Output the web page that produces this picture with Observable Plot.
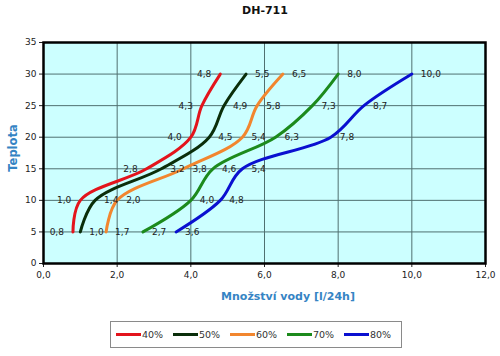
<!DOCTYPE html>
<html>
<head>
<meta charset="utf-8">
<script src="https://cdn.jsdelivr.net/npm/d3@7"></script>
<script src="https://cdn.jsdelivr.net/npm/@observablehq/plot@0.6"></script>
<style>
  body { margin: 0; background: #ffffff; }
  #wrap { position: relative; width: 500px; height: 356px; font-family: "DejaVu Sans", Verdana, sans-serif; overflow: hidden; }
  #title { position: absolute; left: 0; width: 530px; top: 4px; text-align: center; font-weight: bold; font-size: 11px; color: #111; }
  #ytitle { position: absolute; left: 13px; top: 148px; transform: translate(-50%, -50%) rotate(-90deg); font-weight: bold; font-size: 11.5px; color: #3584c4; white-space: nowrap; }
  #xtitle { position: absolute; left: 288px; top: 296px; transform: translate(-50%, -50%); font-weight: bold; font-size: 11px; color: #3584c4; white-space: nowrap; }
  #legend { position: absolute; left: 110px; top: 321px; width: 292px; height: 27px; border: 1px solid #8a8a8a; box-sizing: border-box; display: flex; align-items: center; padding-left: 5px; font-size: 9.5px; color: #333; }
  .item { display: flex; align-items: center; width: 58px; }
  .sw { width: 25px; height: 3px; margin-right: 1px; }
</style>
</head>
<body>
<div id="wrap">
  <div id="chart"></div>
  <div id="title">DH-711</div>
  <div id="ytitle">Teplota</div>
  <div id="xtitle">Množství vody [l/24h]</div>
  <div id="legend"></div>
</div>
<script>
// Data
const temps = [5, 10, 15, 20, 25, 30];
const series = ["40%", "50%", "60%", "70%", "80%"];
const colors = ["#e3141c", "#0a2e0a", "#f2862e", "#1c8a1c", "#0a10d0"];
const v40 = [0.8, 1.0, 2.8, 4.0, 4.3, 4.8];
const v50 = [1.0, 1.4, 3.2, 4.5, 4.9, 5.5];
const v60 = [1.7, 2.0, 3.8, 5.4, 5.8, 6.5];
const v70 = [2.7, 4.0, 4.6, 6.3, 7.3, 8.0];
const v80 = [3.6, 4.8, 5.4, 7.8, 8.7, 10.0];
const xTicks = [0, 2, 4, 6, 8, 10, 12];
const yTicks = [0, 5, 10, 15, 20, 25, 30, 35];

const allValues = [v40, v50, v60, v70, v80];
const rows = [];
series.forEach((s, i) => {
  temps.forEach((t, j) => rows.push({ series: s, t, v: allValues[i][j] }));
});
const fmt = (d) => d3.format(".1f")(d).replace(".", ",");

const chart = Plot.plot({
  width: 500,
  height: 356,
  marginTop: 42,
  marginBottom: 93,
  marginLeft: 43,
  marginRight: 15,
  style: { background: "transparent", fontFamily: "DejaVu Sans, Verdana, sans-serif", fontSize: "9px", color: "#222" },
  x: { domain: [0, 12], label: null },
  y: { domain: [0, 35], label: null },
  color: { domain: series, range: colors },
  marks: [
    Plot.frame({ fill: "#ccffff", stroke: null }),
    Plot.gridX(xTicks, { stroke: "#4f7070", strokeOpacity: 1, strokeWidth: 1 }),
    Plot.gridY(yTicks, { stroke: "#4f7070", strokeOpacity: 1, strokeWidth: 1 }),
    Plot.axisX(xTicks, { tickFormat: fmt, tickSize: 4, tickPadding: 4, label: null, fill: "#222" }),
    Plot.axisY(yTicks, { tickSize: 4, tickPadding: 3, label: null, fill: "#222" }),
    Plot.line(rows, { x: "v", y: "t", z: "series", stroke: "series", strokeWidth: 3, curve: "catmull-rom" }),
    Plot.text(rows.filter(d => d.series === "40%"), { x: "v", y: "t", text: d => fmt(d.v), textAnchor: "end", dx: -9, fill: "#222" }),
    Plot.text(rows.filter(d => d.series !== "40%"), { x: "v", y: "t", text: d => fmt(d.v), textAnchor: "start", dx: 9, fill: "#222" }),
    Plot.frame({ stroke: "#000", strokeWidth: 2.5 })
  ]
});
document.getElementById("chart").appendChild(chart);

const legend = document.getElementById("legend");
series.forEach((s, i) => {
  const it = document.createElement("div");
  it.className = "item";
  const sw = document.createElement("div");
  sw.className = "sw";
  sw.style.background = colors[i];
  const lb = document.createElement("span");
  lb.textContent = s;
  it.appendChild(sw);
  it.appendChild(lb);
  legend.appendChild(it);
});
</script>
</body>
</html>
